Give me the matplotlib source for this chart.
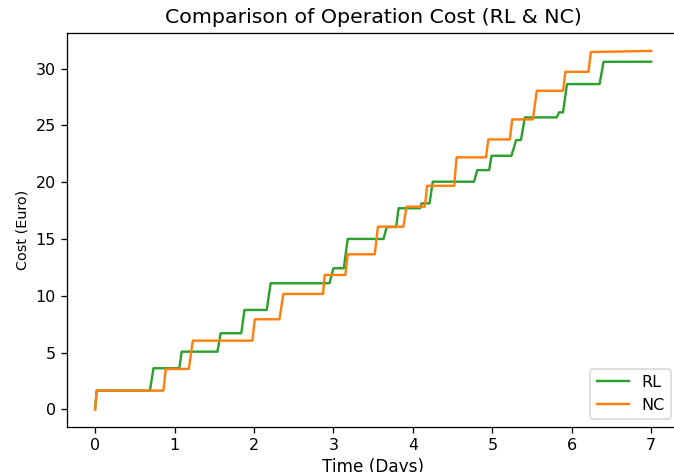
import matplotlib
matplotlib.use('Agg')
import matplotlib.pyplot as plt

# cumulative operation cost (days, euro)
rl_days = [0.0, 0.02, 0.69, 0.735, 1.06, 1.09, 1.54, 1.58, 1.84, 1.88,
           2.16, 2.21, 2.95, 3.0, 3.13, 3.18, 3.63, 3.67, 3.79, 3.82,
           4.09, 4.11, 4.21, 4.25, 4.77, 4.81, 4.96, 4.99, 5.24, 5.30,
           5.36, 5.41, 5.81, 5.84, 5.89, 5.94, 6.35, 6.40, 7.0]
rl_cost = [0.0, 1.65, 1.65, 3.62, 3.62, 5.08, 5.08, 6.7, 6.7, 8.75,
           8.75, 11.1, 11.1, 12.42, 12.42, 15.0, 15.0, 16.05, 16.05, 17.7,
           17.7, 18.13, 18.13, 20.04, 20.04, 21.06, 21.06, 22.32, 22.32, 23.7,
           23.7, 25.7, 25.7, 26.14, 26.14, 28.63, 28.63, 30.59, 30.6]

nc_days = [0.0, 0.02, 0.86, 0.89, 1.18, 1.23, 1.98, 2.01, 2.32, 2.37,
           2.87, 2.89, 3.15, 3.18, 3.52, 3.56, 3.88, 3.92, 4.15, 4.18,
           4.52, 4.55, 4.92, 4.95, 5.22, 5.25, 5.51, 5.56, 5.89, 5.92,
           6.21, 6.24, 7.0]
nc_cost = [0.0, 1.65, 1.65, 3.56, 3.56, 6.05, 6.05, 7.93, 7.93, 10.16,
           10.16, 11.83, 11.83, 13.65, 13.65, 16.08, 16.08, 17.84, 17.84, 19.68,
           19.68, 22.18, 22.18, 23.76, 23.76, 25.52, 25.52, 28.04, 28.04, 29.71,
           29.71, 31.45, 31.55]

DPI = 115
fig = plt.figure(figsize=(674.01 / DPI, 472.01 / DPI), dpi=DPI)
# original figure was cropped on the right, so the axes run past the edge
ax = fig.add_axes([67.3 / 674, (472 - 427.3) / 472,
                   (679 - 67.3) / 674, (427.3 - 33) / 472])

ax.plot(rl_days, rl_cost, color='tab:green', label='RL')
ax.plot(nc_days, nc_cost, color='tab:orange', label='NC')

ax.set_title('Comparison of Operation Cost (RL & NC)', fontsize=12.8)
ax.set_xlabel('Time (Days)', fontsize=10.6, labelpad=3)
ax.set_ylabel('Cost (Euro)', fontsize=9)
ax.legend(loc='lower right')

fig.savefig('out.png', dpi=DPI)
